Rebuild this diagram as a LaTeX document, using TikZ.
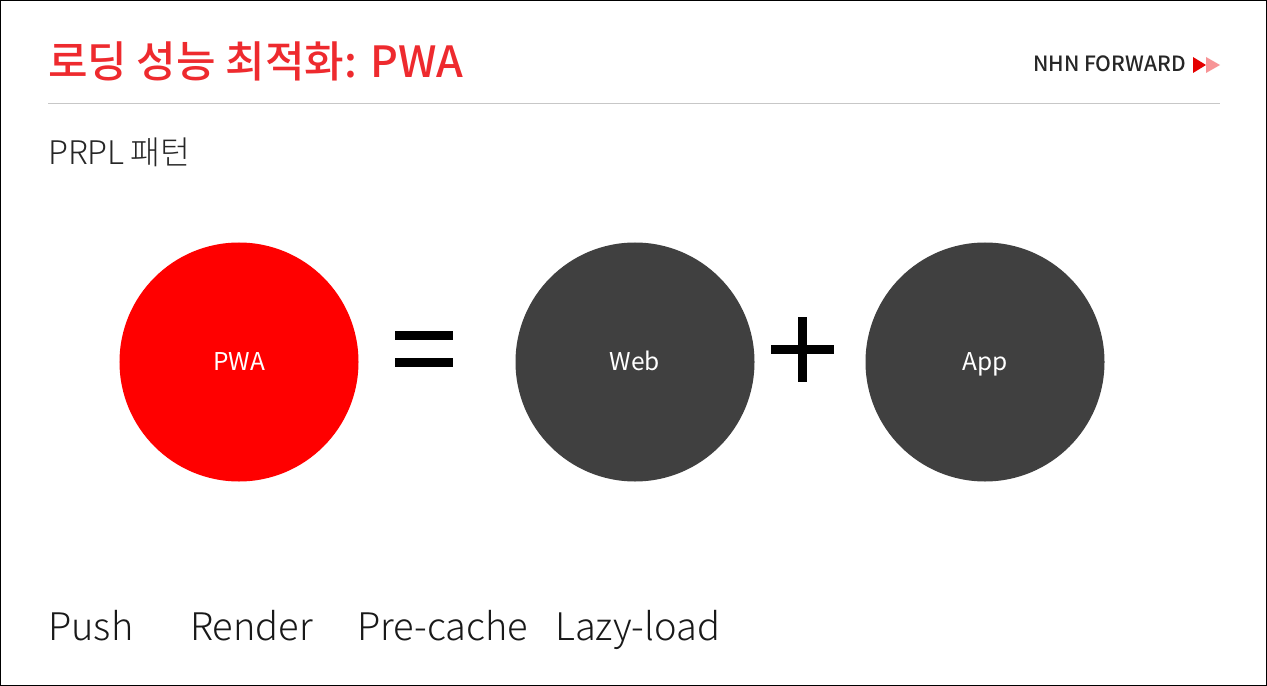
\documentclass[tikz,border=0pt]{standalone}
\usepackage{fontspec}
\setmainfont{Noto Sans CJK KR}
\newfontfamily\krlight{Noto Sans CJK KR Light}
\newfontfamily\krmedium{Noto Sans CJK KR Medium}
\definecolor{nhnred}{HTML}{EE2A2E}
\definecolor{dark}{HTML}{404040}
\definecolor{ink}{HTML}{262626}
\tikzset{
 pxx/.style={x=1bp,y=-1bp},
 disc/.style={circle,minimum size=239bp,inner sep=0pt},
 disclab/.style={text=white,inner sep=0pt,text height=18bp,text depth=0pt,font=\fontsize{24.5bp}{28bp}\selectfont},
 lab/.style={anchor=base west,inner sep=0pt,text=ink},
 word/.style={lab,text=black!90,font=\krlight\fontsize{38bp}{42bp}\selectfont},
 bar/.style={fill=black},
}
\begin{document}
\begin{tikzpicture}[pxx]
\useasboundingbox (0,0) rectangle (1267,686);
\fill[white] (0,0) rectangle (1267,686);
\draw[black,line width=1.5bp] (0.75,0.75) rectangle (1266.25,685.25);
\node[lab,text=nhnred,font=\krmedium\fontsize{43bp}{47bp}\selectfont] (title) at (48,78) {로딩 성능 최적화: PWA};
\node[lab,text=ink,font=\krmedium\fontsize{21bp}{24bp}\selectfont] (brand) at (1033,72) {NHN FORWARD};
\fill[red!90!black] (1193,57) -- (1206,65) -- (1193,73) -- cycle;
\fill[nhnred!50] (1206,57) -- (1220,65) -- (1206,73) -- cycle;
\draw[black!22,line width=1.6bp] (48,103.5) -- (1220,103.5);
\node[lab,font=\krlight\fontsize{32.5bp}{36bp}\selectfont] (sub) at (48,165) {PRPL\hspace{-0.03em} 패턴};
\node[disc,fill=red] (pwa) at (239,362) {};
\node[disc,fill=dark] (web) at (635,362) {};
\node[disc,fill=dark] (app) at (985,362) {};
\node[disclab] at (239,361) {PWA};
\node[disclab] at (635,361) {Web};
\node[disclab] at (985,361.5) {App};
\fill[bar] (394.5,330.7) rectangle (452.5,339.5);
\fill[bar] (394.5,358) rectangle (452.5,366.7);
\fill[bar] (770.5,344.5) rectangle (833.5,353.5);
\fill[bar] (798,317) rectangle (806.5,382);
\node[word] (w1) at (48,640) {Push};
\node[word] (w2) at (190,640) {Render};
\node[word] (w3) at (357,640) {Pre-cache};
\node[word] (w4) at (555,640) {Lazy-load};
\end{tikzpicture}
\end{document}
